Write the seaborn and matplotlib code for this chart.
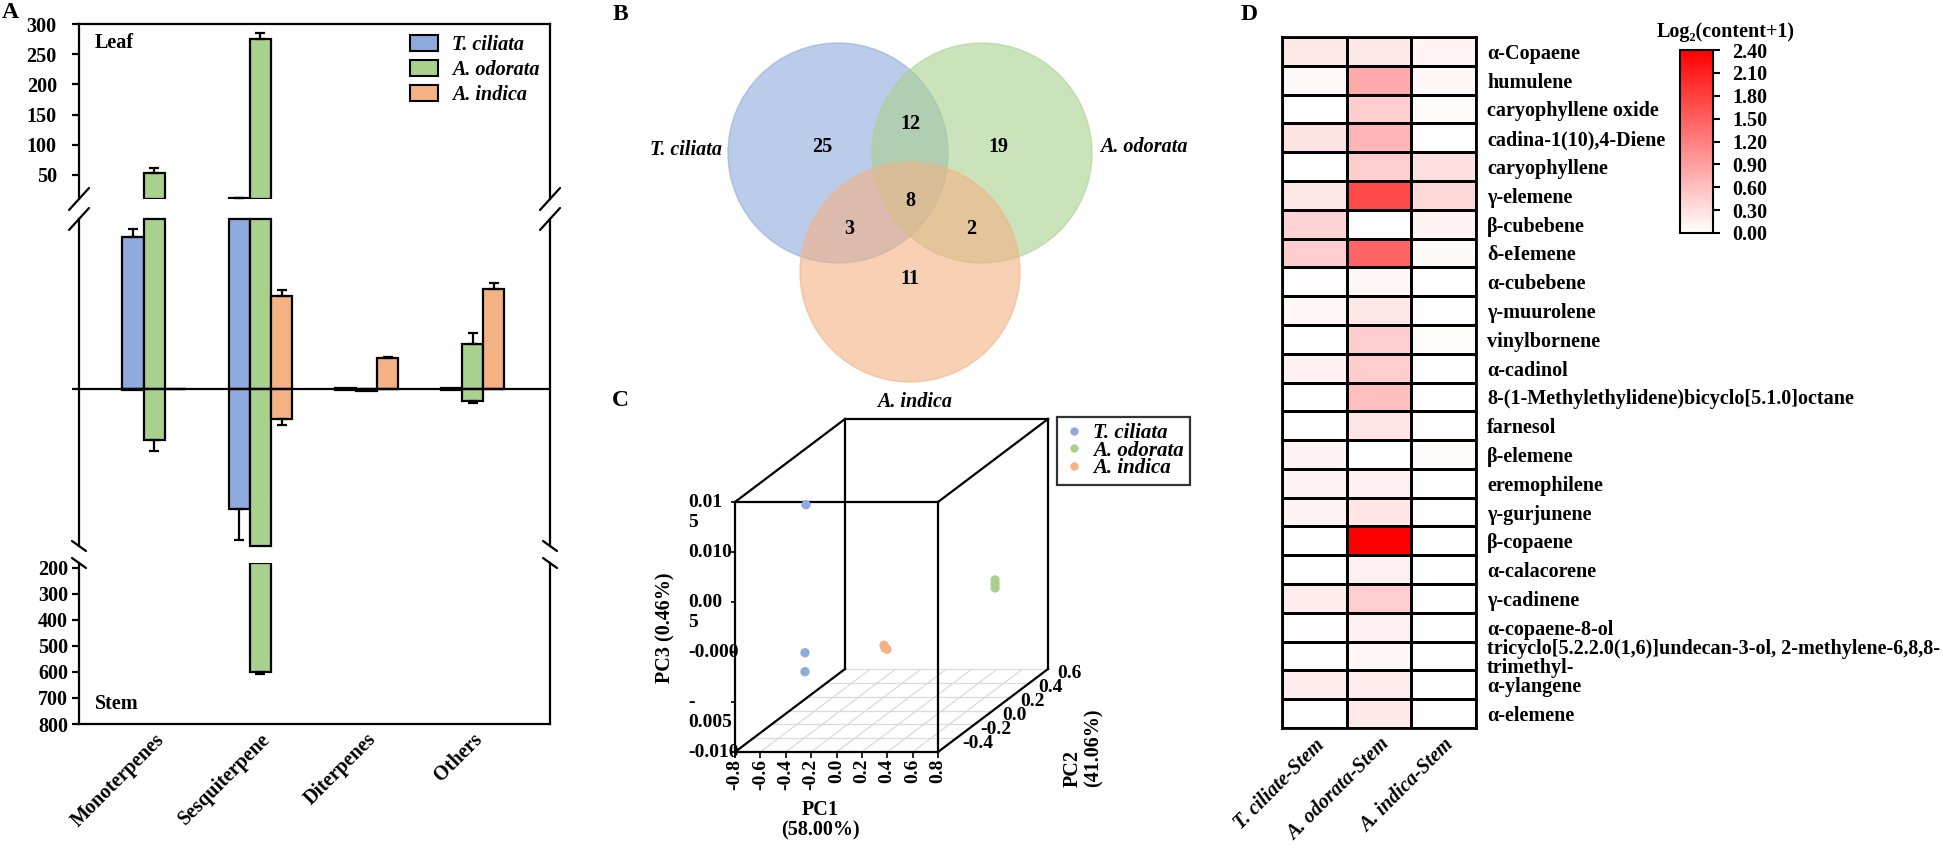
import numpy as np
import pandas as pd
import matplotlib
matplotlib.use("Agg")
import matplotlib.pyplot as plt
import seaborn as sns
from matplotlib.patches import Circle, Patch
from matplotlib.lines import Line2D
from matplotlib.colors import LinearSegmentedColormap
from matplotlib.transforms import ScaledTranslation, blended_transform_factory

# ---------------- Panel A data ----------------
categories = ["Monoterpenes", "Sesquiterpene", "Diterpenes", "Others"]
species = ["T. ciliata", "A. odorata", "A. indica"]
palette = ["#8FAADC", "#A9D18E", "#F4B183"]

leaf_tc = [8.94, 11.0, 0.06, 0.05]
leaf_ao = [53.1, 275.2, 0.04, 2.66]
leaf_ai = [0.0, 5.48, 1.82, 5.89]
leaf_err_tc = [0.47, 0.5, 0.0, 0.0]
leaf_err_ao = [8.3, 10.0, 0.0, 0.63]
leaf_err_ai = [0.0, 0.35, 0.06, 0.35]

stem_tc = [0.03, 7.03, 0.02, 0.06]
stem_ao = [2.98, 600.0, 0.10, 0.69]
stem_ai = [0.0, 1.76, 0.0, 0.0]
stem_err_tc = [0.0, 1.82, 0.0, 0.0]
stem_err_ao = [0.62, 8.0, 0.0, 0.09]
stem_err_ai = [0.0, 0.32, 0.0, 0.0]

top_ticks = [50, 100, 150, 200, 250, 300]
bottom_ticks = [200, 300, 400, 500, 600, 700, 800]

# ---------------- Panel B data ----------------
venn_regions = ["100", "110", "010", "111", "101", "011", "001"]
venn_counts = [25, 12, 19, 8, 3, 2, 11]

# ---------------- Panel C data ----------------
pca_species = ["T. ciliata"] * 3 + ["A. odorata"] * 3 + ["A. indica"] * 3
pc1 = [-0.421, -0.429, -0.429, 0.455, 0.455, 0.455, 0.158, 0.181, 0.166]
pc2 = [-0.35, -0.35, -0.35, 0.50, 0.50, 0.50, -0.30, -0.30, -0.30]
pc3 = [0.0130, -0.0018, -0.0037, -0.0004, -0.0008, -0.0012, -0.0014, -0.0018, -0.0017]
pc1_ticks = [-0.8, -0.6, -0.4, -0.2, 0.0, 0.2, 0.4, 0.6, 0.8]
pc2_ticks = [-0.4, -0.2, 0.0, 0.2, 0.4, 0.6]
pc3_ticks = [-0.010, -0.005, 0.000, 0.005, 0.010, 0.015]
pc3_ticklabels = ["-0.010", "-\n0.005", "-0.000", "0.00\n5", "0.010", "0.01\n5"]

# ---------------- Panel D data ----------------
compounds = ["α-Copaene", "humulene", "caryophyllene oxide", "cadina-1(10),4-Diene",
             "caryophyllene", "γ-elemene", "β-cubebene", "δ-eIemene", "α-cubebene",
             "γ-muurolene", "vinylbornene", "α-cadinol",
             "8-(1-Methylethylidene)bicyclo[5.1.0]octane", "farnesol", "β-elemene",
             "eremophilene", "γ-gurjunene", "β-copaene", "α-calacorene", "γ-cadinene",
             "α-copaene-8-ol",
             "tricyclo[5.2.2.0(1,6)]undecan-3-ol, 2-methylene-6,8,8-\ntrimethyl-",
             "α-ylangene", "α-elemene"]
stem_columns = ["T. ciliate-Stem", "A. odorata-Stem", "A. indica-Stem"]
heat_tc = [0.22, 0.07, 0.02, 0.28, 0.0, 0.23, 0.42, 0.47, 0.02, 0.09, 0.0, 0.14,
           0.0, 0.0, 0.12, 0.12, 0.12, 0.0, 0.0, 0.18, 0.02, 0.0, 0.18, 0.01]
heat_ao = [0.22, 0.80, 0.47, 0.70, 0.47, 1.70, 0.0, 1.46, 0.09, 0.23, 0.47, 0.47,
           0.60, 0.25, 0.0, 0.14, 0.25, 2.40, 0.14, 0.47, 0.14, 0.09, 0.18, 0.21]
heat_ai = [0.10, 0.08, 0.04, 0.02, 0.30, 0.37, 0.12, 0.05, 0.01, 0.01, 0.03, 0.01,
           0.0, 0.0, 0.04, 0.0, 0.01, 0.0, 0.0, 0.0, 0.0, 0.0, 0.01, 0.0]
cbar_ticks = [0.0, 0.3, 0.6, 0.9, 1.2, 1.5, 1.8, 2.1, 2.4]

# ---------------- style ----------------
sns.set_style("white")
plt.rcParams["font.family"] = ["Liberation Serif", "DejaVu Serif"]
plt.rcParams["font.weight"] = "bold"
plt.rcParams["font.size"] = 14.5
for k in ["text.color", "axes.edgecolor", "axes.labelcolor", "xtick.color", "ytick.color"]:
    plt.rcParams[k] = "black"
plt.rcParams["axes.linewidth"] = 1.6

W, H = 1943, 848
fig = plt.figure(figsize=(W / 100, H / 100), dpi=100)


def rect(x0, y0, x1, y1):
    return [x0 / W, 1 - y1 / H, (x1 - x0) / W, (y1 - y0) / H]


def fig_line(xs, ys, **kw):
    fig.add_artist(Line2D([x / W for x in xs], [1 - y / H for y in ys],
                          transform=fig.transFigure, color="black", **kw))


def fig_text(x, y, s, **kw):
    fig.text(x / W, 1 - y / H, s, **kw)


# ======================= Panel A =======================
A_X = (79, 550)
A_TOP, A_MID, A_BOT = (24, 199), (219, 546), (563, 724)
TOP_LIM, MID_LIM, BOT_LIM = (10, 300), (-9.2, 10), (800, 181)

rows = []
for sp, lv, le, sv, se in zip(species, [leaf_tc, leaf_ao, leaf_ai],
                              [leaf_err_tc, leaf_err_ao, leaf_err_ai],
                              [stem_tc, stem_ao, stem_ai],
                              [stem_err_tc, stem_err_ao, stem_err_ai]):
    for c, a, b, d, e in zip(categories, lv, le, sv, se):
        rows.append(dict(category=c, species=sp, leaf=a, leaf_err=b, stem=d, stem_err=e))
dfA = pd.DataFrame(rows)
dfA["top_h"] = np.where(dfA.leaf > TOP_LIM[0], dfA.leaf - TOP_LIM[0], np.nan)
dfA["mid_leaf"] = dfA.leaf.clip(upper=MID_LIM[1])
dfA["mid_stem"] = -dfA.stem.clip(upper=-MID_LIM[0])
dfA["bot_h"] = np.where(dfA.stem > BOT_LIM[1], dfA.stem - BOT_LIM[1], np.nan)

axT = fig.add_axes(rect(A_X[0], A_TOP[0], A_X[1], A_TOP[1]))
axM = fig.add_axes(rect(A_X[0], A_MID[0], A_X[1], A_MID[1]))
axB = fig.add_axes(rect(A_X[0], A_BOT[0], A_X[1], A_BOT[1]))

bar_kw = dict(x="category", hue="species", order=categories, hue_order=species,
              palette=palette, saturation=1, width=0.6, errorbar=None,
              edgecolor="black", linewidth=1.6, legend=False)

sns.barplot(data=dfA, y="top_h", bottom=TOP_LIM[0], ax=axT, **bar_kw)
sns.barplot(data=dfA, y="mid_leaf", ax=axM, clip_on=False, **bar_kw)
sns.barplot(data=dfA, y="mid_stem", ax=axM, clip_on=False, **bar_kw)
sns.barplot(data=dfA, y="bot_h", bottom=BOT_LIM[1], ax=axB, **bar_kw)

err_kw = dict(fmt="none", ecolor="black", elinewidth=1.6, capsize=3.6, capthick=1.6, zorder=4)
for i, sp in enumerate(species):
    sub = dfA[dfA.species == sp]
    xpos = np.arange(len(categories)) + (i - 1) * 0.2
    lv, le = sub.leaf.values, sub.leaf_err.values
    sv, se = sub.stem.values, sub.stem_err.values
    m_top = (le > 0) & (lv > TOP_LIM[0])
    m_mid = (le > 0) & (lv < MID_LIM[1])
    axT.errorbar(xpos[m_top], lv[m_top], yerr=[np.zeros(m_top.sum()), le[m_top]], **err_kw)
    axM.errorbar(xpos[m_mid], lv[m_mid], yerr=[np.zeros(m_mid.sum()), le[m_mid]], **err_kw)
    s_mid = (se > 0) & (sv < -MID_LIM[0])
    s_bot = (se > 0) & (sv > BOT_LIM[1])
    axM.errorbar(xpos[s_mid], -sv[s_mid], yerr=[se[s_mid], np.zeros(s_mid.sum())], **err_kw)
    axB.errorbar(xpos[s_bot], sv[s_bot], yerr=[np.zeros(s_bot.sum()), se[s_bot]], **err_kw)

for ax in (axT, axM, axB):
    ax.set_xlim(-0.71, 3.73)
    ax.set_xlabel("")
    ax.set_ylabel("")
    for s in ax.spines.values():
        s.set_linewidth(1.6)
        s.set_color("black")
    ax.tick_params(axis="y", left=True, direction="out", length=5, width=1.6, labelsize=14.5)

axT.set_ylim(*TOP_LIM)
axT.set_yticks(top_ticks)
axT.spines["bottom"].set_visible(False)
axT.tick_params(axis="x", bottom=False, labelbottom=False)
axT.tick_params(axis="y", pad=11)

axM.set_ylim(*MID_LIM)
axM.set_yticks([0])
axM.set_yticklabels([""])
axM.spines["top"].set_visible(False)
axM.spines["bottom"].set_visible(False)
axM.tick_params(axis="x", bottom=False, labelbottom=False)
axM.axhline(0, color="black", lw=1.6, zorder=3)

axB.set_ylim(*BOT_LIM)
axB.set_yticks(bottom_ticks)
axB.spines["top"].set_visible(False)
axB.tick_params(axis="y", pad=3)
axB.set_xticks(range(len(categories)))
axB.set_xticklabels(categories, rotation=45, ha="right", rotation_mode="anchor")
axB.tick_params(axis="x", bottom=False, length=0, pad=4, labelsize=14.5)

axT.legend(handles=[Patch(facecolor=c, edgecolor="black", linewidth=1.5) for c in palette],
           labels=species, loc="upper left", bbox_to_anchor=(410 / W, 1 - 35 / H),
           bbox_transform=fig.transFigure, frameon=False, borderpad=0, borderaxespad=0,
           handlelength=1.4, handleheight=0.85, handletextpad=0.7, labelspacing=0.25,
           prop=dict(style="italic", weight="bold", size=14.5))

fig_text(95, 43, "Leaf", ha="left", va="center", fontsize=14.5)
fig_text(95, 704, "Stem", ha="left", va="center", fontsize=14.5)

# broken-axis marks
for xs in A_X:
    for yb in (A_TOP[1], A_MID[0]):
        fig_line([xs - 10, xs + 10], [yb + 11, yb - 11], lw=1.6)
    for yb in (A_MID[1], A_BOT[0]):
        fig_line([xs - 7, xs + 7], [yb - 5, yb + 5], lw=1.6)

# ======================= Panel B (Venn) =======================
axV = fig.add_axes(rect(700, 0, 1130, 420))
axV.set_xlim(700, 1130)
axV.set_ylim(420, 0)
axV.axis("off")
venn_r = 110
venn_centers = [(838, 153), (982, 153), (910, 272)]
for (cx, cy), col in zip(venn_centers, palette):
    axV.add_patch(Circle((cx, cy), venn_r, facecolor=col, edgecolor=col, alpha=0.6, lw=1))
region_pos = {"100": (822, 147), "110": (910, 124), "010": (998, 147), "111": (910, 201),
              "101": (849, 229), "011": (971, 229), "001": (910, 279)}
for reg, cnt in zip(venn_regions, venn_counts):
    x, y = region_pos[reg]
    axV.text(x, y, str(cnt), ha="center", va="center", fontsize=14.5)
axV.text(722, 150, species[0], ha="right", va="center", style="italic", fontsize=14.5)
axV.text(1100, 147, species[1], ha="left", va="center", style="italic", fontsize=14.5)
axV.text(915, 402, species[2], ha="center", va="center", style="italic", fontsize=14.5)

# ======================= Panel C (3D PCA, oblique box) =======================
FRONT = (735, 502, 938, 752)
DEPTH_PX = (110, 83)
PC1_LIM, PC2_LIM, PC3_LIM = (-0.8, 0.8), (-0.6, 0.6), (-0.010, 0.015)
axC = fig.add_axes(rect(*FRONT))
axC.set_xlim(*PC1_LIM)
axC.set_ylim(*PC3_LIM)
ddx = DEPTH_PX[0] / (FRONT[2] - FRONT[0]) * (PC1_LIM[1] - PC1_LIM[0])
ddy = DEPTH_PX[1] / (FRONT[3] - FRONT[1]) * (PC3_LIM[1] - PC3_LIM[0])


def proj(p1, p2, p3):
    t = (np.asarray(p2, float) - PC2_LIM[0]) / (PC2_LIM[1] - PC2_LIM[0])
    return np.asarray(p1, float) + t * ddx, np.asarray(p3, float) + t * ddy


# floor grid
for v in pc2_ticks:
    gx, gy = proj(list(PC1_LIM), [v, v], [PC3_LIM[0]] * 2)
    axC.plot(gx, gy, color="#DADADA", lw=0.9, clip_on=False, zorder=1)
for u in pc1_ticks[1:-1]:
    gx, gy = proj([u, u], list(PC2_LIM), [PC3_LIM[0]] * 2)
    axC.plot(gx, gy, color="#DADADA", lw=0.9, clip_on=False, zorder=1)

# box edges
lo1, hi1 = PC1_LIM
lo2, hi2 = PC2_LIM
lo3, hi3 = PC3_LIM
edges = []
for b in (lo2, hi2):
    for c in (lo3, hi3):
        if not (b == hi2 and c == lo3):
            edges.append(([lo1, hi1], [b, b], [c, c]))
for a in (lo1, hi1):
    for c in (lo3, hi3):
        edges.append(([a, a], [lo2, hi2], [c, c]))
for a in (lo1, hi1):
    for b in (lo2, hi2):
        edges.append(([a, a], [b, b], [lo3, hi3]))
for e in edges:
    ex, ey = proj(*e)
    axC.plot(ex, ey, color="black", lw=1.6, clip_on=False, zorder=2, solid_capstyle="projecting")

dfC = pd.DataFrame({"species": pca_species, "PC1": pc1, "PC2": pc2, "PC3": pc3})
dfC["sx"], dfC["sy"] = proj(dfC.PC1, dfC.PC2, dfC.PC3)
sns.scatterplot(data=dfC, x="sx", y="sy", hue="species", hue_order=species, palette=palette,
                s=45, edgecolor="none", legend=False, ax=axC, zorder=3, clip_on=False)
axC.set_xlim(*PC1_LIM)
axC.set_ylim(*PC3_LIM)
axC.set_xlabel("")
axC.set_ylabel("")
for s in axC.spines.values():
    s.set_visible(False)
axC.patch.set_visible(False)

axC.set_xticks(pc1_ticks)
axC.set_xticklabels([f"{v:.1f}" for v in pc1_ticks])
axC.tick_params(axis="x", bottom=True, direction="out", length=4, width=1.2, pad=1,
                labelrotation=90, labelsize=14)
axC.set_yticks(pc3_ticks)
axC.set_yticklabels([])
axC.tick_params(axis="y", left=True, direction="out", length=3, width=1.2)
tr = blended_transform_factory(axC.transAxes, axC.transData) + \
    ScaledTranslation(-47 / 100, 8 / 100, fig.dpi_scale_trans)
for v, lab in zip(pc3_ticks, pc3_ticklabels):
    axC.text(0, v, lab, transform=tr, ha="left", va="top", multialignment="left",
             fontsize=14, clip_on=False)
tr2 = axC.transData + ScaledTranslation(21 / 100, -5 / 100, fig.dpi_scale_trans)
for v in pc2_ticks:
    lx, ly = proj(hi1, v, lo3)
    axC.text(lx, ly, f"{v:.1f}", transform=tr2, ha="center", va="center", fontsize=14,
             clip_on=False)

fig_text(665, 628, "PC3 (0.46%)", rotation=90, ha="center", va="center", fontsize=14.5)
fig_text(820, 820, "PC1\n(58.00%)", ha="center", va="center", fontsize=14.5, linespacing=1.05)
fig_text(1083, 787, "PC2\n(41.06%)", rotation=90, ha="center", va="bottom",
         multialignment="left", fontsize=14.5, linespacing=1.05)

legC = [Line2D([], [], ls="", marker="o", markersize=6, markerfacecolor=c,
               markeredgecolor="none") for c in palette]
lg = axC.legend(legC, species, loc="upper left", bbox_to_anchor=(1057 / W, 1 - 417 / H),
                bbox_transform=fig.transFigure, frameon=True, fancybox=False,
                edgecolor="black", borderpad=0.3, labelspacing=-0.12, handlelength=1.0,
                handletextpad=0.45, borderaxespad=0,
                prop=dict(style="italic", weight="bold", size=15))
lg.get_frame().set_linewidth(1.6)

# ======================= Panel D (heatmap) =======================
axD = fig.add_axes(rect(1282, 37, 1476, 728))
axCB = fig.add_axes(rect(1680, 50, 1713, 233))
dfD = pd.DataFrame({stem_columns[0]: heat_tc, stem_columns[1]: heat_ao,
                    stem_columns[2]: heat_ai}, index=compounds)
cmap = LinearSegmentedColormap.from_list("white_red", ["#FFFFFF", "#FF0000"])
sns.heatmap(dfD, ax=axD, cmap=cmap, vmin=0, vmax=2.4, linewidths=2, linecolor="black",
            cbar_ax=axCB, cbar_kws={"ticks": cbar_ticks})
for s in axD.spines.values():
    s.set_visible(True)
    s.set_linewidth(2)
    s.set_color("black")
axD.yaxis.tick_right()
axD.set_yticks(np.arange(len(compounds)) + 0.5)
axD.set_yticklabels(compounds, rotation=0, ha="left", fontsize=14.5)
axD.tick_params(axis="y", length=0, pad=8, left=False, right=False)
for lab in axD.get_yticklabels():
    if lab.get_text().startswith("tricyclo"):
        lab.set_linespacing(0.95)
axD.set_xticks(np.arange(len(stem_columns)) + 0.5)
axD.set_xticklabels(stem_columns, rotation=45, ha="right", rotation_mode="anchor",
                    style="italic", fontsize=14.5)
axD.tick_params(axis="x", length=0, pad=5, bottom=False)
axD.set_xlabel("")
axD.set_ylabel("")

cb = axD.collections[0].colorbar
cb.outline.set_linewidth(1.5)
cb.outline.set_edgecolor("black")
cb.set_ticks(cbar_ticks)
cb.ax.set_yticklabels([f"{t:.2f}" for t in cbar_ticks])
axCB.tick_params(axis="y", right=True, direction="out", length=5, width=1.5, pad=9,
                 labelsize=14.5)
fig_text(1726, 32, "Log₂(content+1)", ha="center", va="center", fontsize=14.5)

# panel letters
for letter, (x, y) in zip("ABCD", [(10, 13), (620, 14), (620, 400), (1249, 14)]):
    fig_text(x, y, letter, ha="center", va="center", fontsize=17)

fig.savefig("out.png", dpi=100)
